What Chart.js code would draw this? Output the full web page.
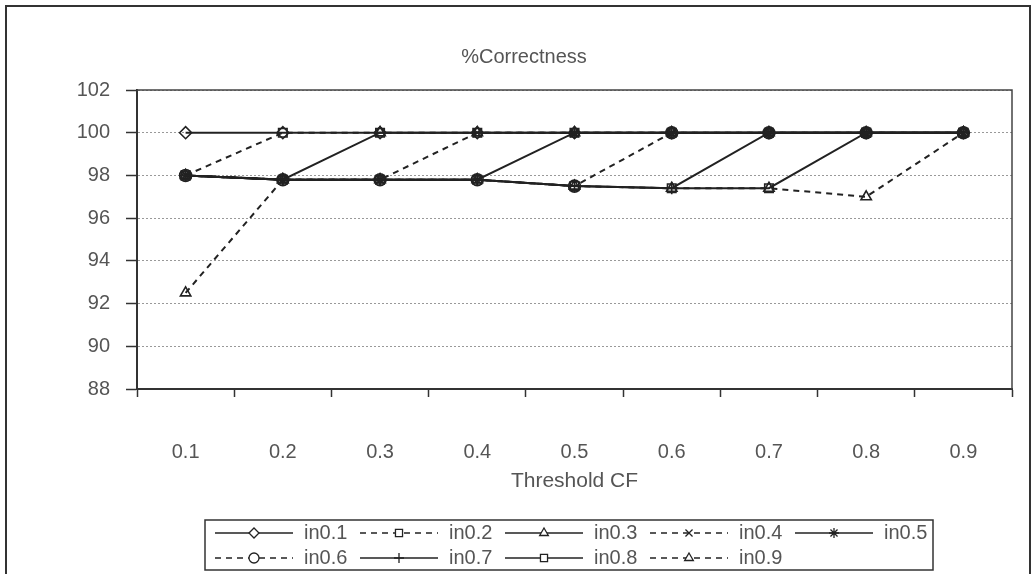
<!DOCTYPE html>
<html>
<head>
<meta charset="utf-8">
<script src="https://cdn.jsdelivr.net/npm/chart.js@4/dist/chart.umd.min.js"></script>
<style>
  html, body { margin: 0; padding: 0; background: #fff; }
  #wrap { position: relative; width: 1034px; height: 574px; }
</style>
</head>
<body>
<div id="wrap"><canvas id="cfChart"></canvas></div>
<script>
// values
const thresholds = ['0.1', '0.2', '0.3', '0.4', '0.5', '0.6', '0.7', '0.8', '0.9'];
const yTicks = [88, 90, 92, 94, 96, 98, 100, 102];

const in01 = [100, 100, 100, 100, 100, 100, 100, 100, 100];
const in02 = [98, 100, 100, 100, 100, 100, 100, 100, 100];
const in03 = [98, 97.8, 100, 100, 100, 100, 100, 100, 100];
const in04 = [98, 97.8, 97.8, 100, 100, 100, 100, 100, 100];
const in05 = [98, 97.8, 97.8, 97.8, 100, 100, 100, 100, 100];
const in06 = [98, 97.8, 97.8, 97.8, 97.5, 100, 100, 100, 100];
const in07 = [98, 97.8, 97.8, 97.8, 97.5, 97.4, 100, 100, 100];
const in08 = [98, 97.8, 97.8, 97.8, 97.5, 97.4, 97.4, 100, 100];
const in09 = [92.5, 97.8, 97.8, 97.8, 97.5, 97.4, 97.4, 97.0, 100];

const seriesNames = ['in0.1', 'in0.2', 'in0.3', 'in0.4', 'in0.5', 'in0.6', 'in0.7', 'in0.8', 'in0.9'];
const seriesValues = [in01, in02, in03, in04, in05, in06, in07, in08, in09];
const seriesMarkers = ['rectRot', 'rect', 'triangle', 'crossRot', 'star', 'circle', 'cross', 'rect', 'triangle'];
const seriesDashed = [false, true, false, true, false, true, false, false, true];

const INK = '#222';
const TEXT = '#555';
const FONT = 'Arial, "Liberation Sans", sans-serif';

const datasets = seriesNames.map((name, i) => ({
    label: name,
    data: seriesValues[i],
    order: seriesNames.length - i, // later series on top, like the original
    borderColor: INK,
    borderWidth: 2,
    borderDash: seriesDashed[i] ? [6, 5] : [],
    pointStyle: seriesMarkers[i],
    pointRadius: 6,
    pointBackgroundColor: 'rgba(255,255,255,0)',
    pointBorderColor: INK,
    pointBorderWidth: 1.6,
    tension: 0,
    fill: false
}));

// frame round the whole figure, plot border and the hand-made legend
const framePlugin = {
    id: 'frame',
    beforeDraw(chart) {
        const ctx = chart.ctx;
        ctx.save();
        ctx.strokeStyle = '#333';
        ctx.lineWidth = 2;
        ctx.beginPath();
        ctx.moveTo(6, 600);
        ctx.lineTo(6, 6);
        ctx.lineTo(1030, 6);
        ctx.lineTo(1030, 600);
        ctx.stroke();
        ctx.restore();
    },
    afterDatasetsDraw(chart) {
        const ctx = chart.ctx;
        const a = chart.chartArea;
        ctx.save();
        ctx.strokeStyle = '#444';
        ctx.lineWidth = 1.5;
        ctx.beginPath();
        ctx.moveTo(a.left, a.top);
        ctx.lineTo(a.right, a.top);
        ctx.lineTo(a.right, a.bottom);
        ctx.stroke();
        ctx.restore();
    },
    afterDraw(chart) {
        const ctx = chart.ctx;
        ctx.save();
        ctx.strokeStyle = '#333';
        ctx.lineWidth = 1.5;
        ctx.strokeRect(205, 520, 728, 50);

        chart.data.datasets.forEach((ds, i) => {
            const col = i % 5;
            const row = Math.floor(i / 5);
            const x0 = 215 + col * 145;
            const y = 533 + row * 25;
            ctx.strokeStyle = INK;
            ctx.lineWidth = 1.5;
            ctx.setLineDash(ds.borderDash);
            ctx.beginPath();
            ctx.moveTo(x0, y);
            ctx.lineTo(x0 + 78, y);
            ctx.stroke();
            ctx.setLineDash([]);
            ctx.fillStyle = '#fff';
            ctx.strokeStyle = INK;
            ctx.lineWidth = 1.3;
            Chart.helpers.drawPoint(ctx, { pointStyle: ds.pointStyle, radius: 5, borderWidth: 1.3, rotation: 0 }, x0 + 39, y);
            ctx.fillStyle = TEXT;
            ctx.font = '20px ' + FONT;
            ctx.textAlign = 'left';
            ctx.textBaseline = 'middle';
            ctx.fillText(ds.label, x0 + 89, y);
        });
        ctx.restore();
    }
};

new Chart(document.getElementById('cfChart'), {
    type: 'line',
    data: { labels: thresholds, datasets: datasets },
    plugins: [framePlugin],
    options: {
        responsive: true,
        maintainAspectRatio: false,
        animation: false,
        layout: { padding: { left: 36, right: 22, top: 0, bottom: 0 } },
        plugins: {
            legend: { display: false },
            tooltip: { enabled: false },
            title: {
                display: true,
                text: '%Correctness',
                color: TEXT,
                font: { family: FONT, size: 20, weight: 'normal' },
                padding: { top: 45, bottom: 21 }
            }
        },
        scales: {
            x: {
                offset: true,
                grid: {
                    offset: true,
                    drawOnChartArea: false,
                    tickLength: 8,
                    tickColor: '#333',
                    tickWidth: 1.5
                },
                border: { color: '#333', width: 2 },
                ticks: {
                    color: TEXT,
                    font: { family: FONT, size: 20 },
                    padding: 43,
                    maxRotation: 0
                },
                title: {
                    display: true,
                    text: 'Threshold CF',
                    color: TEXT,
                    font: { family: FONT, size: 21 },
                    padding: { top: 4, bottom: 80 }
                },
                afterFit(scale) { scale.height = 185; }
            },
            y: {
                min: 88,
                max: 102,
                afterBuildTicks(scale) { scale.ticks = yTicks.map(v => ({ value: v })); },
                grid: {
                    color: '#999',
                    lineWidth: 1,
                    tickLength: 11,
                    tickColor: '#333',
                    tickWidth: 1.5
                },
                border: { color: '#333', width: 2, dash: [2, 2] },
                ticks: {
                    color: TEXT,
                    font: { family: FONT, size: 20 },
                    padding: 16
                },
                afterFit(scale) { scale.width = 101; }
            }
        }
    }
});
</script>
</body>
</html>
